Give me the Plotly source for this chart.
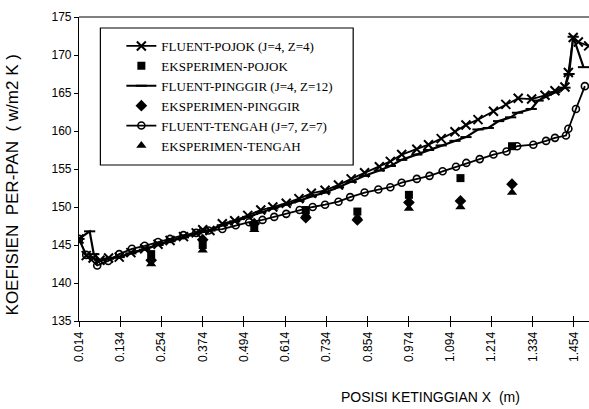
import plotly.graph_objects as go

# ---------------- data ----------------
pojok_x = [0.014, 0.035, 0.055, 0.075, 0.100, 0.131, 0.165, 0.205, 0.244, 0.279, 0.318, 0.355,
           0.374, 0.395, 0.431, 0.467, 0.505, 0.543, 0.578, 0.617, 0.654, 0.690, 0.730, 0.769,
           0.806, 0.845, 0.888, 0.920, 0.953, 0.997, 1.031, 1.068, 1.108, 1.140, 1.175, 1.220,
           1.256, 1.292, 1.331, 1.370, 1.399, 1.428, 1.438, 1.452, 1.467, 1.497]
pojok_y = [145.8, 143.6, 143.3, 143.0, 143.3, 143.4, 144.0, 144.5, 145.1, 145.6, 146.1, 146.6,
           147.0, 146.9, 147.8, 148.2, 148.9, 149.6, 150.0, 150.5, 151.1, 151.8, 152.2, 152.9,
           153.7, 154.5, 155.3, 156.0, 156.9, 157.6, 158.2, 159.0, 159.9, 160.8, 161.5, 162.6,
           163.5, 164.3, 164.2, 164.7, 165.3, 165.8, 167.7, 172.3, 171.7, 171.2]

pinggir_x = [0.014, 0.045, 0.057, 0.075, 0.100, 0.131, 0.165, 0.205, 0.244, 0.279, 0.318, 0.355,
             0.395, 0.431, 0.467, 0.505, 0.543, 0.578, 0.617, 0.654, 0.690, 0.730, 0.769, 0.806,
             0.845, 0.888, 0.920, 0.953, 0.997, 1.031, 1.068, 1.108, 1.140, 1.175, 1.205, 1.235,
             1.270, 1.290, 1.330, 1.350, 1.399, 1.428, 1.440, 1.452, 1.482]
pinggir_y = [145.8, 146.8, 143.8, 143.0, 143.2, 143.4, 143.9, 144.4, 145.0, 145.5, 146.0, 146.5,
             146.9, 147.6, 148.1, 148.7, 149.3, 149.8, 150.3, 150.8, 151.4, 151.9, 152.6, 153.3,
             154.1, 154.8, 155.4, 156.2, 156.9, 157.5, 158.1, 158.7, 159.2, 160.2, 160.4, 161.3,
             161.8, 162.4, 162.9, 164.0, 165.1, 165.7, 167.5, 172.4, 168.4]

tengah_x = [0.014, 0.035, 0.067, 0.099, 0.131, 0.168, 0.205, 0.244, 0.279, 0.318, 0.355, 0.391,
            0.431, 0.470, 0.509, 0.548, 0.582, 0.617, 0.656, 0.694, 0.730, 0.769, 0.803, 0.845,
            0.885, 0.920, 0.953, 0.997, 1.034, 1.072, 1.111, 1.141, 1.180, 1.220, 1.258, 1.289,
            1.336, 1.373, 1.399, 1.431, 1.438, 1.460, 1.486]
tengah_y = [145.8, 143.7, 142.3, 142.9, 143.8, 144.5, 144.9, 145.4, 145.8, 146.3, 146.6, 146.9,
            147.1, 147.6, 148.0, 148.3, 148.7, 149.1, 149.6, 150.0, 150.3, 150.7, 151.3, 151.9,
            152.3, 152.6, 153.2, 153.7, 154.1, 154.7, 155.3, 155.8, 156.3, 156.9, 157.3, 158.0,
            158.2, 158.7, 159.1, 159.4, 160.3, 162.9, 165.9]

eksp_x = [0.224, 0.374, 0.524, 0.674, 0.824, 0.974, 1.124, 1.274]
eksp_pojok = [143.8, 145.0, 147.5, 149.6, 149.4, 151.6, 153.8, 158.0]
eksp_pinggir = [143.0, 145.7, 147.8, 148.6, 148.3, 150.6, 150.8, 153.0]
eksp_tengah = [142.5, 144.3, 147.0, 149.0, 148.7, 149.8, 150.0, 151.9]

x_ticks = [0.014, 0.134, 0.254, 0.374, 0.494, 0.614, 0.734, 0.854, 0.974, 1.094, 1.214, 1.334, 1.454]
x_tick_text = ["0.014", "0.134", "0.254", "0.374", "0.494", "0.614", "0.734", "0.854", "0.974",
               "1.094", "1.214", "1.334", "1.454"]
y_ticks = [135, 140, 145, 150, 155, 160, 165, 170, 175]

# ---------------- layout geometry (pixels) ----------------
W, H = 589, 409
L, R, T, B = 78.6, 589, 17, 321          # plot area edges
PW, PH = R - L, B - T


def px(xp):
    return (xp - L) / PW


def py(yp):
    return (B - yp) / PH


BLACK = "black"
fig = go.Figure()

fig.add_trace(go.Scatter(
    x=pojok_x, y=pojok_y, mode="lines+markers", name="FLUENT-POJOK (J=4, Z=4)",
    line=dict(color=BLACK, width=1.8),
    marker=dict(symbol="x-thin", size=9, line=dict(color=BLACK, width=2))))
fig.add_trace(go.Scatter(
    x=eksp_x, y=eksp_pojok, mode="markers", name="EKSPERIMEN-POJOK",
    marker=dict(symbol="square", size=8, color=BLACK)))
fig.add_trace(go.Scatter(
    x=pinggir_x, y=pinggir_y, mode="lines+markers", name="FLUENT-PINGGIR (J=4, Z=12)",
    line=dict(color=BLACK, width=2.2),
    marker=dict(symbol="line-ew", size=8, line=dict(color=BLACK, width=2))))
fig.add_trace(go.Scatter(
    x=eksp_x, y=eksp_pinggir, mode="markers", name="EKSPERIMEN-PINGGIR",
    marker=dict(symbol="diamond", size=9, color=BLACK)))
fig.add_trace(go.Scatter(
    x=tengah_x, y=tengah_y, mode="lines+markers", name="FLUENT-TENGAH (J=7, Z=7)",
    line=dict(color=BLACK, width=1.8),
    marker=dict(symbol="circle-open", size=7, color=BLACK, line=dict(width=1.6))))
fig.add_trace(go.Scatter(
    x=eksp_x, y=eksp_tengah, mode="markers", name="EKSPERIMEN-TENGAH",
    marker=dict(symbol="triangle-up", size=9, color=BLACK)))

# dummy trace carrying the inward tick axis (so ticks cross the x axis line)
fig.add_trace(go.Scatter(x=x_ticks, y=[135] * len(x_ticks), xaxis="x2", mode="markers",
                         marker=dict(opacity=0), showlegend=False, hoverinfo="skip"))

tick_font = dict(family="Liberation Sans, Arial, sans-serif", size=12, color=BLACK)

fig.update_layout(
    width=W, height=H,
    margin=dict(l=L, r=W - R, t=T, b=H - B, autoexpand=False),
    paper_bgcolor="white", plot_bgcolor="white",
    showlegend=True,
    legend=dict(x=px(121), y=py(31), xanchor="left", yanchor="top",
                bgcolor="rgba(0,0,0,0)", borderwidth=0,
                font=dict(family="Liberation Serif, Times New Roman, serif", size=13, color=BLACK),
                itemwidth=30, tracegroupgap=0),
    xaxis=dict(range=[0.014, 1.498], tickmode="array", tickvals=x_ticks, ticktext=x_tick_text,
               tickangle=-90, ticks="outside", ticklen=5, tickwidth=1, tickcolor=BLACK,
               showline=True, linecolor=BLACK, linewidth=1.2, mirror=False,
               showgrid=False, zeroline=False, tickfont=tick_font, automargin=False),
    xaxis2=dict(range=[0.014, 1.498], overlaying="x", anchor="y", side="bottom",
                tickmode="array", tickvals=x_ticks, ticktext=[""] * len(x_ticks),
                ticks="inside", ticklen=5, tickwidth=1, tickcolor=BLACK,
                showline=False, showgrid=False, zeroline=False, showticklabels=False),
    yaxis=dict(range=[135, 175], tickmode="array", tickvals=y_ticks,
               ticks="outside", ticklen=4, tickwidth=1, tickcolor=BLACK,
               showline=True, linecolor=BLACK, linewidth=1.2,
               showgrid=False, zeroline=False, tickfont=tick_font, automargin=False),
)

# top frame line
fig.add_shape(type="line", xref="paper", yref="paper", x0=0, x1=1, y0=1, y1=1,
              line=dict(color=BLACK, width=1.2))
# legend frame
fig.add_shape(type="rect", xref="paper", yref="paper", layer="below",
              x0=px(100), x1=px(353), y0=py(165), y1=py(28),
              line=dict(color=BLACK, width=1.2), fillcolor="white")

fig.add_annotation(text="KOEFISIEN  PER-PAN  ( w/m2 K )", xref="paper", yref="paper",
                   x=px(13), y=py(185), textangle=-90,
                   showarrow=False, xanchor="center", yanchor="middle",
                   font=dict(family="Liberation Sans, Arial, sans-serif", size=17, color=BLACK))
fig.add_annotation(text="POSISI KETINGGIAN X  (m)", xref="paper", yref="paper",
                   x=px(430), y=py(397),
                   showarrow=False, xanchor="center", yanchor="middle",
                   font=dict(family="Liberation Sans Narrow, Liberation Sans, Arial, sans-serif",
                             size=14, color=BLACK))

fig.write_html("out.html", config={"displayModeBar": False},
               post_script="document.body.style.margin='0';")
